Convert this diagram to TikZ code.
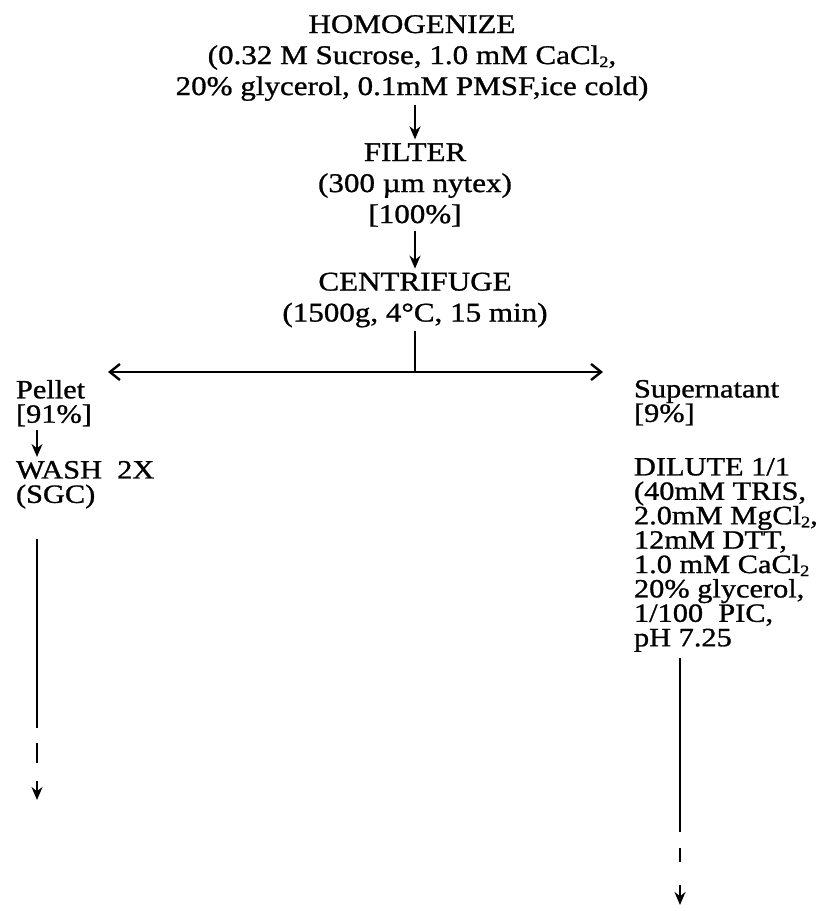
\documentclass[tikz,border=0pt]{standalone}
\usepackage{fontspec}
\setmainfont{Liberation Serif}[FakeBold=1, FakeStretch=1.15]
\usetikzlibrary{positioning, arrows.meta}
\newcommand{\subtwo}{\raisebox{-0.25ex}{\fontsize{8}{8}\selectfont 2}}

\begin{document}
\begin{tikzpicture}[
  x=0.5pt, y=0.5pt,
  stage/.style={align=center, inner sep=0pt, outer sep=2pt,
                font=\fontsize{13.5}{15.5}\selectfont},
  side/.style={stage, align=left, anchor=north west,
               font=\fontsize{13.2}{12.2}\selectfont},
  arr/.style={-{Stealth[length=6.5pt, width=5.5pt]}, line width=1.2pt},
  harr/.style={-{Straight Barb[length=5pt, width=8pt]}, line width=1.2pt},
  link/.style={line width=1.2pt}
]
\useasboundingbox (0,0) rectangle (821,-911);
% main column
\node[stage] (homog) at (412,-58) {HOMOGENIZE\\(0.32 M Sucrose, 1.0 mM CaCl\subtwo,\\20\% glycerol, 0.1mM PMSF,ice cold)};
\node[stage] (filter) at (415,-185) {FILTER\\(300 µm nytex)\\{}[100\%]};
\node[stage] (centr) at (415,-300) {CENTRIFUGE\\(1500g, 4°C, 15 min)};
\coordinate (split) at (415,-372);
\coordinate (ltip) at (108,-372);
\coordinate (rtip) at (603,-372);
\draw[arr] (homog.south -| filter) -- (filter);
\draw[arr] (filter) -- (centr);
\draw[link] (centr) -- (split);
\draw[harr] (split) -- (ltip);
\draw[harr] (split) -- (rtip);
% pellet branch
\node[side] (pellet) at (12,-376) {Pellet\\{}[91\%]};
\node[side] (wash) at (12,-457) {WASH\ \ 2X\\(SGC)};
\coordinate (pend) at (37,-800);
\draw[arr] ([xshift=12.5pt]pellet.south west) -- ([xshift=12.5pt]wash.north west);
\draw[arr, shorten <=13pt, dash pattern=on 94.5pt off 7.5pt on 10pt off 9pt on 20pt]
  (wash.south west -| pend) -- (pend);
% supernatant branch
\node[side] (super) at (630,-376) {Supernatant\\{}[9\%]};
\node[side] (dilute) at (630,-454) {DILUTE 1/1\\(40mM TRIS,\\2.0mM MgCl\subtwo,\\12mM DTT,\\1.0 mM CaCl\subtwo\\20\% glycerol,\\1/100\ \ PIC,\\pH 7.25};
\coordinate (send) at (680,-905);
\draw[arr, shorten <=1pt, dash pattern=on 87pt off 8pt on 7pt off 11.5pt on 20pt]
  (dilute.south west -| send) -- (send);
\end{tikzpicture}
\end{document}
